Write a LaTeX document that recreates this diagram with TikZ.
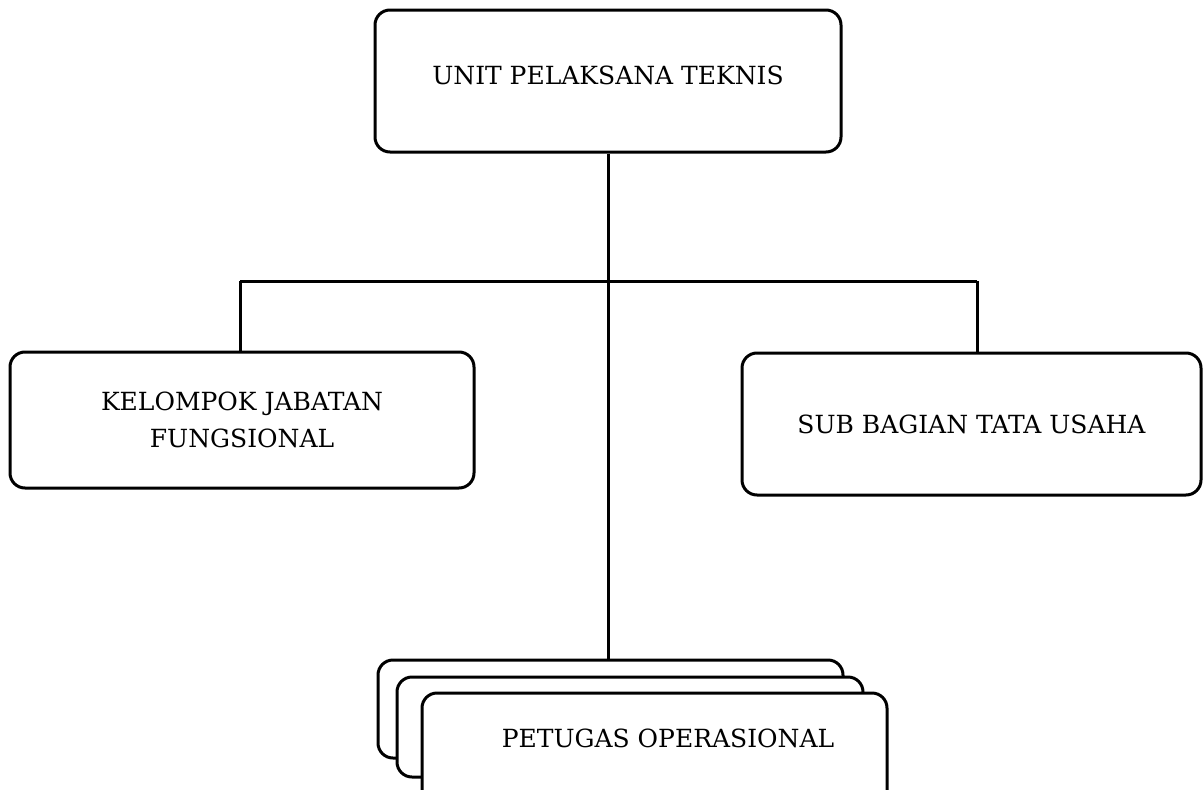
\documentclass[tikz,border=0pt]{standalone}
\usepackage{fontspec}
\setmainfont{DejaVu Serif}
\begin{document}
\begin{tikzpicture}[x=1pt,y=-1pt,
  lbl/.style={font=\fontsize{25}{37}\selectfont},
  orgbox/.style={draw=black, line width=3pt, rounded corners=15pt, fill=white, inner sep=0pt, align=center, lbl},
  conn/.style={draw=black, line width=3pt}]
\clip (0,0) rectangle (1203,790);
\fill[white] (0,0) rectangle (1203,790);
% boxes
\node[orgbox, minimum width=466pt, minimum height=142pt] (top) at (608,81) {};
\node[lbl] (toptext) at (608,75) {UNIT PELAKSANA TEKNIS};
\node[orgbox, minimum width=464pt, minimum height=136pt] (left) at (242,420) {KELOMPOK JABATAN\\FUNGSIONAL};
\node[orgbox, minimum width=459pt, minimum height=142pt] (right) at (971.5,424) {SUB BAGIAN TATA USAHA};
\node[orgbox, minimum width=465pt, minimum height=98pt] (back) at (610.5,709) {};
\node[orgbox, minimum width=466pt, minimum height=100pt] (mid) at (630,727) {};
\node[orgbox, minimum width=465pt, minimum height=114pt] (front) at (654.5,750) {};
\node[lbl] (fronttext) at (668,738) {PETUGAS OPERASIONAL};
% connectors
\coordinate (bl) at (240,281);
\coordinate (br) at (977,281);
\draw[conn] (top.south) -- (top.south |- back.north);
\draw[conn] (bl) -- (br);
\draw[conn] (bl) -- (bl |- left.north);
\draw[conn] (br) -- (br |- right.north);
\end{tikzpicture}
\end{document}
